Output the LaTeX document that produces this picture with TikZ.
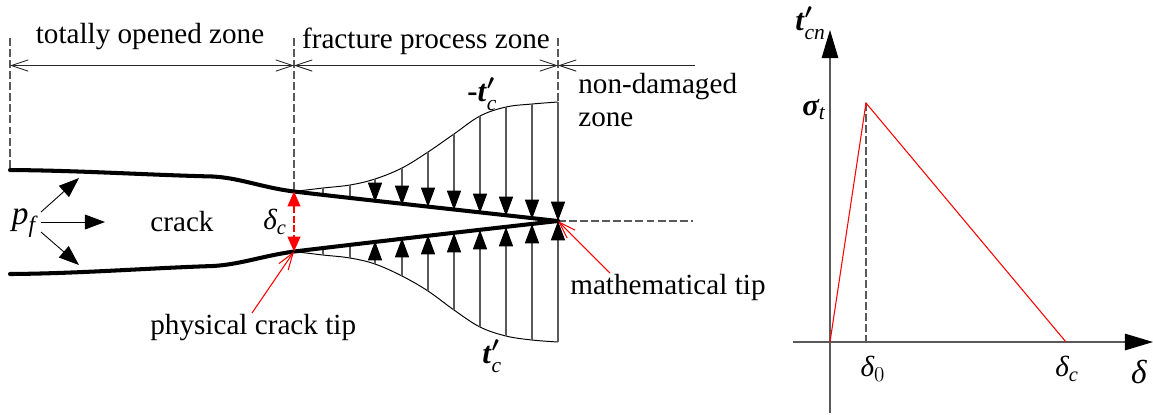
\documentclass[tikz,border=0pt]{standalone}
\usepackage{amsmath}
\usepackage{fontspec}
\setmainfont{Liberation Serif}
\usetikzlibrary{arrows.meta}

\newcommand{\ital}[1]{\textit{#1}}
\newcommand{\tprime}[1]{\mbox{\boldmath$\textbf{\textit{t}}'_{\textit{#1}}$}}

\begin{document}
\begin{tikzpicture}[x=0.02cm, y=-0.02cm, >=Triangle,
    lbl/.style={font=\fontsize{16.6}{20}\selectfont, inner sep=0pt},
    biglbl/.style={font=\fontsize{19}{22}\selectfont, inner sep=0pt},
    tlbl/.style={font=\fontsize{17.5}{20}\selectfont, inner sep=0pt, anchor=base west},
    thin line/.style={line width=0.7pt, black!65},
    dimline/.style={line width=0.5pt, black!85, {Straight Barb[length=9.6pt,width=6.4pt]}-{Straight Barb[length=9.6pt,width=6.4pt]}},
    dashline/.style={thin line, dash pattern=on 4.5pt off 1.8pt},
    envelope/.style={line width=0.55pt, black},
    cracklip/.style={line width=2.3pt, line cap=round},
    tract/.style={thin line, -{Triangle[length=11pt,width=8pt,fill=black,black]}},
    bigarrow/.style={line width=0.5pt, -{Triangle[length=11.5pt,width=8.5pt]}},
    axisline/.style={thin line, -{Triangle[length=16pt,width=9.4pt,fill=black,black]}},
    redleader/.style={red, line width=0.6pt, -{Straight Barb[length=9.6pt,width=6.4pt]}}]
    \useasboundingbox (0,0) rectangle (1153,414);

    % Key points
    \coordinate (Pa) at (294,191.5);
    \coordinate (Pb) at (294,251.5);
    \coordinate (Tip) at (558,221);

    % Zone limits and dimension lines
    \draw[dashline] (10,38) -- (10,170);
    \draw[dashline] (294,38) -- (Pa);
    \draw[dashline] (558,38) -- (558,102);
    \draw[dashline] (Tip) -- (693,221);
    \draw[dimline] (10,65.5) -- (294,65.5);
    \draw[dimline] (294,65.5) -- (558,65.5);
    \draw[line width=0.5pt, black!85, -{Straight Barb[length=9.6pt,width=6.4pt]}] (695,65.5) -- (558,65.5);
    \node[lbl] (opened) at (150,37) {totally opened zone};
    \node[lbl] (process) at (426,41) {fracture process zone};
    \node[lbl, anchor=base west] (nondamaged) at (578,93) {non-damaged};
    \node[lbl, anchor=base west] (zone) at (578,126) {zone};

    % Cohesive traction envelopes
    \draw[envelope] plot[smooth, tension=0.6] coordinates {(Pa) (323,188) (350,185) (375,179) (402,168) (428,152) (454,134) (480,116) (506,107) (532,104) (558,102)};
    \draw[envelope] plot[smooth, tension=0.6] coordinates {(Pb) (323,255) (350,258) (375,264) (402,276) (428,291) (454,310) (480,327) (506,336) (532,340) (558,342)};

    % Short ticks near the physical tip
    \draw[thin line] (323,188) -- (323,195) (350,185) -- (350,198);
    \draw[thin line] (323,255) -- (323,248) (350,258) -- (350,245);

    % Traction arrows, upper side
    \draw[tract] (375,179) -- (375,202);
    \draw[tract] (402,168) -- (402,205);
    \draw[tract] (428,152) -- (428,207);
    \draw[tract] (454,134) -- (454,210);
    \draw[tract] (480,116) -- (480,213);
    \draw[tract] (506,107) -- (506,216);
    \draw[tract] (532,104) -- (532,219);
    \draw[tract] (558,102) -- (Tip);

    % Traction arrows, lower side
    \draw[tract] (375,264) -- (375,241);
    \draw[tract] (402,276) -- (402,238);
    \draw[tract] (428,291) -- (428,235);
    \draw[tract] (454,310) -- (454,233);
    \draw[tract] (480,327) -- (480,230);
    \draw[tract] (506,336) -- (506,227);
    \draw[tract] (532,340) -- (532,224);
    \draw[tract] (558,342) -- (Tip);

    % Crack faces
    \draw[cracklip] (10,170) .. controls (80,170.5) and (150,175) .. (213,176.5) .. controls (240,178) and (262,187.5) .. (Pa) .. controls (340,197) and (450,209) .. (Tip);
    \draw[cracklip] (10,274) .. controls (80,273.5) and (150,268) .. (213,266) .. controls (240,264.5) and (262,256) .. (Pb) .. controls (340,246) and (450,233) .. (Tip);

    % Opening at the physical tip
    \draw[red, line width=0.7pt, dash pattern=on 4pt off 1.5pt, {Triangle[length=8.5pt,width=7.4pt]}-{Triangle[length=8.5pt,width=7.4pt]}] (Pa) -- (Pb);
    \node[lbl] (deltac) at (275,222) {$\ital{δ}_{\ital{c}}$};

    % Fluid pressure
    \node[biglbl] (pf) at (24,223) {$\ital{p}_{\ital{f}}$};
    \coordinate (Pu) at (79,178);
    \coordinate (Pm) at (105,222);
    \coordinate (Pd) at (79,265);
    \draw[bigarrow] (41,212) -- (Pu);
    \draw[bigarrow] (41,222) -- (Pm);
    \draw[bigarrow] (41,232) -- (Pd);
    \node[lbl] (crack) at (182,222) {crack};

    % Tip labels
    \node[lbl, anchor=base west] (physical) at (150,334) {physical crack tip};
    \node[lbl, anchor=base west] (mathematical) at (570,294) {mathematical tip};
    \coordinate (Lp) at (252,313);
    \coordinate (Lm) at (610,273);
    \draw[redleader] (Lp) -- (Pb);
    \draw[redleader] (Lm) -- (Tip);
    \node[tlbl] (tneg) at (467,101) {\textbf{-}\tprime{c}};
    \node[tlbl] (tpos) at (482,363) {\tprime{c}};

    % Traction-separation law
    \coordinate (O) at (830,342);
    \coordinate (Peak) at (866,103);
    \coordinate (End) at (1066,342);
    \draw[axisline] (793,342) -- (1153,342);
    \draw[axisline] (830,413) -- (830,30);
    \draw[dashline] (Peak) -- (866,342);
    \draw[red, line width=0.6pt] (O) -- (Peak) -- (End);
    \node[tlbl] (tcn) at (795,30) {\tprime{cn}};
    \node[tlbl] (sigma) at (802,115) {$\ital{\textbf{σ}}_{\ital{t}}$};
    \node[lbl] (delta0) at (873,369) {$\ital{δ}_{0}$};
    \node[lbl] (deltac2) at (1067,369) {$\ital{δ}_{\ital{c}}$};
    \node[biglbl] (delta) at (1139,372) {\ital{δ}};
\end{tikzpicture}
\end{document}
